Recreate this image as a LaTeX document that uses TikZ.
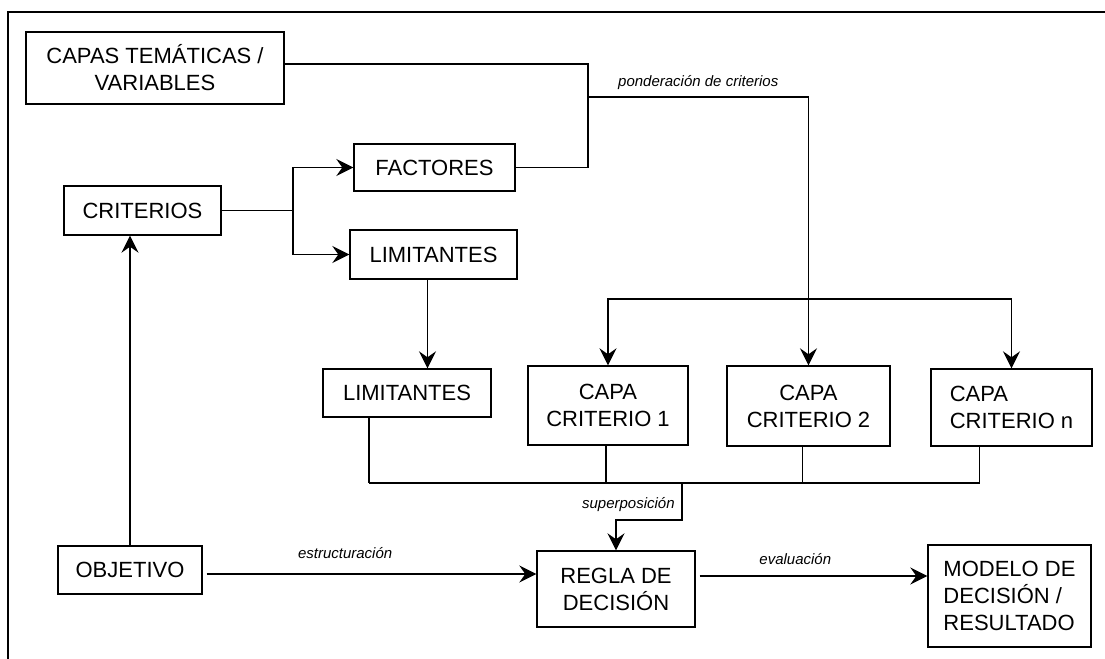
\documentclass[tikz,border=0pt]{standalone}
\usepackage{fontspec}
\setmainfont{Liberation Sans}
\usetikzlibrary{arrows.meta}

\begin{document}
\begin{tikzpicture}[x=0.5pt, y=-0.5pt, line width=0.7pt,
        >={Stealth[length=8.5pt, width=8.5pt, inset=3pt]},
        caja/.style={draw, align=center, inner sep=0pt, font=\fontsize{11}{13.5}\selectfont},
        etiqueta/.style={font=\fontsize{7.5}{9}\selectfont\itshape}]
            \useasboundingbox (0,0) rectangle (1105,659);
            \draw[line width=1pt] (8,659) -- (8,12) -- (1105,12);

            \node[caja, minimum width=129pt, minimum height=36pt] (capas) at (155,68) {CAPAS TEMÁTICAS /\\VARIABLES};
            \node[caja, minimum width=80.5pt, minimum height=23.5pt] (factores) at (434.5,167.5) {FACTORES};
            \node[caja, minimum width=78.5pt, minimum height=24.5pt] (criterios) at (142.5,210.5) {CRITERIOS};
            \node[caja, minimum width=83.5pt, minimum height=24.5pt] (limsup) at (433.5,254.5) {LIMITANTES};
            \node[caja, minimum width=84pt, minimum height=24pt] (liminf) at (407,393) {LIMITANTES};
            \node[caja, minimum width=80pt, minimum height=39.5pt] (capa1) at (608,405.5) {CAPA\\CRITERIO 1};
            \node[caja, minimum width=81.5pt, minimum height=40pt] (capa2) at (808.5,406) {CAPA\\CRITERIO 2};
            \node[caja, align=left, minimum width=80.5pt, minimum height=38.5pt] (capan) at (1011.5,407.5) {CAPA\\CRITERIO n};
            \node[caja, minimum width=72pt, minimum height=24pt] (objetivo) at (130,570) {OBJETIVO};
            \node[caja, minimum width=79pt, minimum height=38pt] (regla) at (616,589) {REGLA DE\\DECISIÓN};
            \node[caja, align=left, minimum width=81.5pt, minimum height=51pt] (modelo) at (1009.5,596) {MODELO DE\\DECISIÓN /\\RESULTADO};

            \coordinate (pond) at (588,97);
            \coordinate (rama) at (293,210.5);
            \coordinate (reparto) at (808.5,299);
            \coordinate (sup) at (682,483);

            \draw ([yshift=2pt]capas.east) -| (pond) |- (factores.east);
            \draw[->] (pond) -| node[etiqueta, pos=0.25, above=0pt] (lblpond) {ponderación de criterios} (capa2.north);

            \draw (criterios.east) -- (rama);
            \draw[->] (rama) |- (factores.west);
            \draw[->] (rama) |- (limsup.west);
            \draw[->] ([xshift=-3pt]limsup.south) -- ([xshift=-3pt]limsup.south |- liminf.north);
            \draw[<->] (capa1.north) |- (reparto) -| (capan.north);

            \foreach \n/\d in {liminf/-19pt, capa1/-1pt, capa2/-3pt, capan/-16pt}
                \draw ([xshift=\d]\n.south) -- ([xshift=\d]\n.south |- sup);
            \draw ([xshift=-19pt]liminf.south |- sup) -- ([xshift=-16pt]capan.south |- sup);
            \draw[->] (sup) -- ++(0,37) node[etiqueta, midway, left, yshift=-1.5pt] (lblsup) {superposición} -| (regla.north);

            \draw[->] (objetivo.north) -- (objetivo.north |- criterios.south);
            \draw[->] ([yshift=-2pt, xshift=2pt]objetivo.east) -- ([yshift=-2pt]objetivo.east -| regla.west) node[etiqueta, pos=0.42, above=4pt] (lblest) {estructuración};
            \draw[->] ([yshift=6.5pt, xshift=2pt]regla.east) -- ([yshift=6.5pt]regla.east -| modelo.west) node[etiqueta, pos=0.42, above=2pt] (lbleval) {evaluación};
        \end{tikzpicture}
\end{document}
